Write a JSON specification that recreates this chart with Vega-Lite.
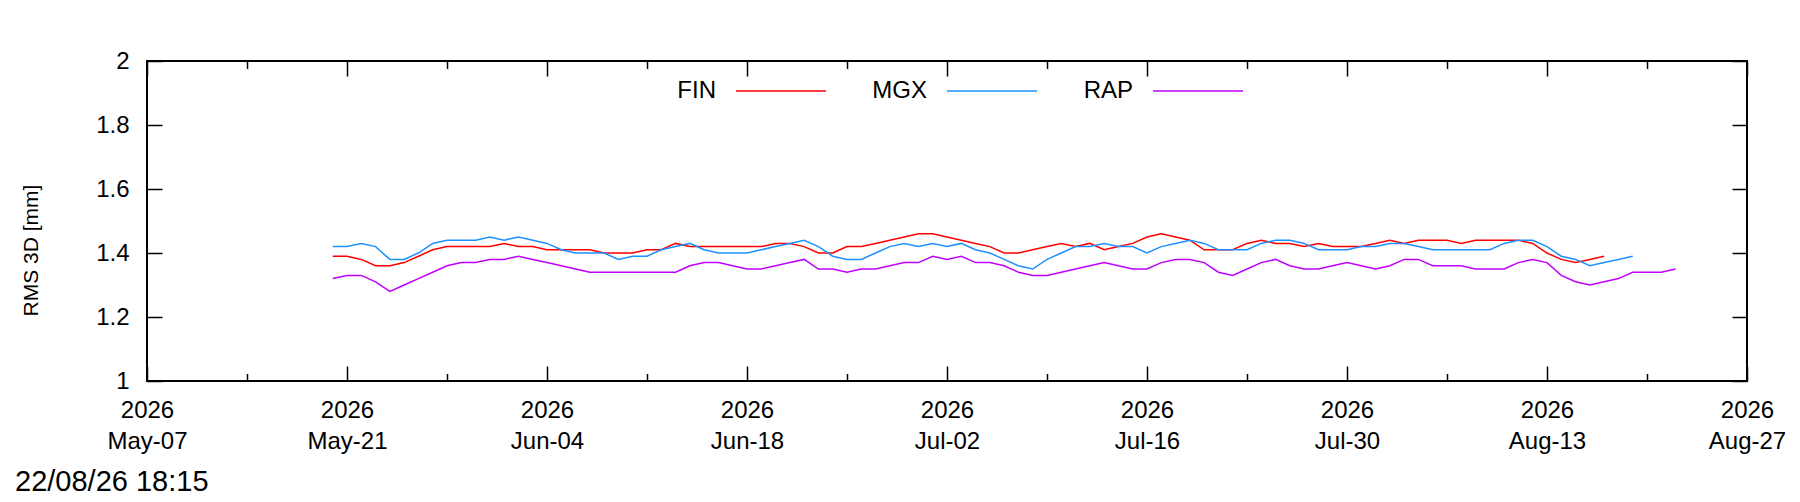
{
"$schema": "https://vega.github.io/schema/vega-lite/v6.json",
"width": 1600, "height": 320,
"autosize": {"type": "none"},
"padding": {"left": 147, "top": 61, "right": 53, "bottom": 121},
"background": "white",
"config": {
  "view": {"stroke": "black", "strokeWidth": 2},
  "font": "Liberation Sans",
  "axis": {"domain": false, "grid": false, "tickColor": "black", "tickWidth": 1.5, "labelColor": "black", "labelFont": "Liberation Sans", "labelFontSize": 24, "titleFont": "Liberation Sans", "titleFontSize": 21, "titleFontWeight": "normal", "titleColor": "black", "labelFlush": false, "labelOverlap": false, "labelBound": false}
},
"title": {"text": "22/08/26 18:15", "orient": "bottom", "anchor": "start", "frame": "group", "font": "Liberation Sans", "fontSize": 29, "fontWeight": "normal", "color": "black", "dx": -132, "offset": 15},
"data": {"values": [
{"date":"2026-05-20","series":"FIN","value":1.39},{"date":"2026-05-21","series":"FIN","value":1.39},{"date":"2026-05-22","series":"FIN","value":1.38},{"date":"2026-05-23","series":"FIN","value":1.36},{"date":"2026-05-24","series":"FIN","value":1.36},{"date":"2026-05-25","series":"FIN","value":1.37},{"date":"2026-05-26","series":"FIN","value":1.39},{"date":"2026-05-27","series":"FIN","value":1.41},{"date":"2026-05-28","series":"FIN","value":1.42},{"date":"2026-05-29","series":"FIN","value":1.42},{"date":"2026-05-30","series":"FIN","value":1.42},{"date":"2026-05-31","series":"FIN","value":1.42},
{"date":"2026-06-01","series":"FIN","value":1.43},{"date":"2026-06-02","series":"FIN","value":1.42},{"date":"2026-06-03","series":"FIN","value":1.42},{"date":"2026-06-04","series":"FIN","value":1.41},{"date":"2026-06-05","series":"FIN","value":1.41},{"date":"2026-06-06","series":"FIN","value":1.41},{"date":"2026-06-07","series":"FIN","value":1.41},{"date":"2026-06-08","series":"FIN","value":1.40},{"date":"2026-06-09","series":"FIN","value":1.40},{"date":"2026-06-10","series":"FIN","value":1.40},{"date":"2026-06-11","series":"FIN","value":1.41},{"date":"2026-06-12","series":"FIN","value":1.41},{"date":"2026-06-13","series":"FIN","value":1.43},{"date":"2026-06-14","series":"FIN","value":1.42},{"date":"2026-06-15","series":"FIN","value":1.42},{"date":"2026-06-16","series":"FIN","value":1.42},{"date":"2026-06-17","series":"FIN","value":1.42},{"date":"2026-06-18","series":"FIN","value":1.42},{"date":"2026-06-19","series":"FIN","value":1.42},{"date":"2026-06-20","series":"FIN","value":1.43},{"date":"2026-06-21","series":"FIN","value":1.43},{"date":"2026-06-22","series":"FIN","value":1.42},{"date":"2026-06-23","series":"FIN","value":1.40},{"date":"2026-06-24","series":"FIN","value":1.40},{"date":"2026-06-25","series":"FIN","value":1.42},{"date":"2026-06-26","series":"FIN","value":1.42},{"date":"2026-06-27","series":"FIN","value":1.43},{"date":"2026-06-28","series":"FIN","value":1.44},{"date":"2026-06-29","series":"FIN","value":1.45},{"date":"2026-06-30","series":"FIN","value":1.46},
{"date":"2026-07-01","series":"FIN","value":1.46},{"date":"2026-07-02","series":"FIN","value":1.45},{"date":"2026-07-03","series":"FIN","value":1.44},{"date":"2026-07-04","series":"FIN","value":1.43},{"date":"2026-07-05","series":"FIN","value":1.42},{"date":"2026-07-06","series":"FIN","value":1.40},{"date":"2026-07-07","series":"FIN","value":1.40},{"date":"2026-07-08","series":"FIN","value":1.41},{"date":"2026-07-09","series":"FIN","value":1.42},{"date":"2026-07-10","series":"FIN","value":1.43},{"date":"2026-07-11","series":"FIN","value":1.42},{"date":"2026-07-12","series":"FIN","value":1.43},{"date":"2026-07-13","series":"FIN","value":1.41},{"date":"2026-07-14","series":"FIN","value":1.42},{"date":"2026-07-15","series":"FIN","value":1.43},{"date":"2026-07-16","series":"FIN","value":1.45},{"date":"2026-07-17","series":"FIN","value":1.46},{"date":"2026-07-18","series":"FIN","value":1.45},{"date":"2026-07-19","series":"FIN","value":1.44},{"date":"2026-07-20","series":"FIN","value":1.41},{"date":"2026-07-21","series":"FIN","value":1.41},{"date":"2026-07-22","series":"FIN","value":1.41},{"date":"2026-07-23","series":"FIN","value":1.43},{"date":"2026-07-24","series":"FIN","value":1.44},{"date":"2026-07-25","series":"FIN","value":1.43},{"date":"2026-07-26","series":"FIN","value":1.43},{"date":"2026-07-27","series":"FIN","value":1.42},{"date":"2026-07-28","series":"FIN","value":1.43},{"date":"2026-07-29","series":"FIN","value":1.42},{"date":"2026-07-30","series":"FIN","value":1.42},{"date":"2026-07-31","series":"FIN","value":1.42},
{"date":"2026-08-01","series":"FIN","value":1.43},{"date":"2026-08-02","series":"FIN","value":1.44},{"date":"2026-08-03","series":"FIN","value":1.43},{"date":"2026-08-04","series":"FIN","value":1.44},{"date":"2026-08-05","series":"FIN","value":1.44},{"date":"2026-08-06","series":"FIN","value":1.44},{"date":"2026-08-07","series":"FIN","value":1.43},{"date":"2026-08-08","series":"FIN","value":1.44},{"date":"2026-08-09","series":"FIN","value":1.44},{"date":"2026-08-10","series":"FIN","value":1.44},{"date":"2026-08-11","series":"FIN","value":1.44},{"date":"2026-08-12","series":"FIN","value":1.43},{"date":"2026-08-13","series":"FIN","value":1.40},{"date":"2026-08-14","series":"FIN","value":1.38},{"date":"2026-08-15","series":"FIN","value":1.37},{"date":"2026-08-16","series":"FIN","value":1.38},{"date":"2026-08-17","series":"FIN","value":1.39},
{"date":"2026-05-20","series":"MGX","value":1.42},{"date":"2026-05-21","series":"MGX","value":1.42},{"date":"2026-05-22","series":"MGX","value":1.43},{"date":"2026-05-23","series":"MGX","value":1.42},{"date":"2026-05-24","series":"MGX","value":1.38},{"date":"2026-05-25","series":"MGX","value":1.38},{"date":"2026-05-26","series":"MGX","value":1.40},{"date":"2026-05-27","series":"MGX","value":1.43},{"date":"2026-05-28","series":"MGX","value":1.44},{"date":"2026-05-29","series":"MGX","value":1.44},{"date":"2026-05-30","series":"MGX","value":1.44},{"date":"2026-05-31","series":"MGX","value":1.45},
{"date":"2026-06-01","series":"MGX","value":1.44},{"date":"2026-06-02","series":"MGX","value":1.45},{"date":"2026-06-03","series":"MGX","value":1.44},{"date":"2026-06-04","series":"MGX","value":1.43},{"date":"2026-06-05","series":"MGX","value":1.41},{"date":"2026-06-06","series":"MGX","value":1.40},{"date":"2026-06-07","series":"MGX","value":1.40},{"date":"2026-06-08","series":"MGX","value":1.40},{"date":"2026-06-09","series":"MGX","value":1.38},{"date":"2026-06-10","series":"MGX","value":1.39},{"date":"2026-06-11","series":"MGX","value":1.39},{"date":"2026-06-12","series":"MGX","value":1.41},{"date":"2026-06-13","series":"MGX","value":1.42},{"date":"2026-06-14","series":"MGX","value":1.43},{"date":"2026-06-15","series":"MGX","value":1.41},{"date":"2026-06-16","series":"MGX","value":1.40},{"date":"2026-06-17","series":"MGX","value":1.40},{"date":"2026-06-18","series":"MGX","value":1.40},{"date":"2026-06-19","series":"MGX","value":1.41},{"date":"2026-06-20","series":"MGX","value":1.42},{"date":"2026-06-21","series":"MGX","value":1.43},{"date":"2026-06-22","series":"MGX","value":1.44},{"date":"2026-06-23","series":"MGX","value":1.42},{"date":"2026-06-24","series":"MGX","value":1.39},{"date":"2026-06-25","series":"MGX","value":1.38},{"date":"2026-06-26","series":"MGX","value":1.38},{"date":"2026-06-27","series":"MGX","value":1.40},{"date":"2026-06-28","series":"MGX","value":1.42},{"date":"2026-06-29","series":"MGX","value":1.43},{"date":"2026-06-30","series":"MGX","value":1.42},
{"date":"2026-07-01","series":"MGX","value":1.43},{"date":"2026-07-02","series":"MGX","value":1.42},{"date":"2026-07-03","series":"MGX","value":1.43},{"date":"2026-07-04","series":"MGX","value":1.41},{"date":"2026-07-05","series":"MGX","value":1.40},{"date":"2026-07-06","series":"MGX","value":1.38},{"date":"2026-07-07","series":"MGX","value":1.36},{"date":"2026-07-08","series":"MGX","value":1.35},{"date":"2026-07-09","series":"MGX","value":1.38},{"date":"2026-07-10","series":"MGX","value":1.40},{"date":"2026-07-11","series":"MGX","value":1.42},{"date":"2026-07-12","series":"MGX","value":1.42},{"date":"2026-07-13","series":"MGX","value":1.43},{"date":"2026-07-14","series":"MGX","value":1.42},{"date":"2026-07-15","series":"MGX","value":1.42},{"date":"2026-07-16","series":"MGX","value":1.40},{"date":"2026-07-17","series":"MGX","value":1.42},{"date":"2026-07-18","series":"MGX","value":1.43},{"date":"2026-07-19","series":"MGX","value":1.44},{"date":"2026-07-20","series":"MGX","value":1.43},{"date":"2026-07-21","series":"MGX","value":1.41},{"date":"2026-07-22","series":"MGX","value":1.41},{"date":"2026-07-23","series":"MGX","value":1.41},{"date":"2026-07-24","series":"MGX","value":1.43},{"date":"2026-07-25","series":"MGX","value":1.44},{"date":"2026-07-26","series":"MGX","value":1.44},{"date":"2026-07-27","series":"MGX","value":1.43},{"date":"2026-07-28","series":"MGX","value":1.41},{"date":"2026-07-29","series":"MGX","value":1.41},{"date":"2026-07-30","series":"MGX","value":1.41},{"date":"2026-07-31","series":"MGX","value":1.42},
{"date":"2026-08-01","series":"MGX","value":1.42},{"date":"2026-08-02","series":"MGX","value":1.43},{"date":"2026-08-03","series":"MGX","value":1.43},{"date":"2026-08-04","series":"MGX","value":1.42},{"date":"2026-08-05","series":"MGX","value":1.41},{"date":"2026-08-06","series":"MGX","value":1.41},{"date":"2026-08-07","series":"MGX","value":1.41},{"date":"2026-08-08","series":"MGX","value":1.41},{"date":"2026-08-09","series":"MGX","value":1.41},{"date":"2026-08-10","series":"MGX","value":1.43},{"date":"2026-08-11","series":"MGX","value":1.44},{"date":"2026-08-12","series":"MGX","value":1.44},{"date":"2026-08-13","series":"MGX","value":1.42},{"date":"2026-08-14","series":"MGX","value":1.39},{"date":"2026-08-15","series":"MGX","value":1.38},{"date":"2026-08-16","series":"MGX","value":1.36},{"date":"2026-08-17","series":"MGX","value":1.37},{"date":"2026-08-18","series":"MGX","value":1.38},{"date":"2026-08-19","series":"MGX","value":1.39},
{"date":"2026-05-20","series":"RAP","value":1.32},{"date":"2026-05-21","series":"RAP","value":1.33},{"date":"2026-05-22","series":"RAP","value":1.33},{"date":"2026-05-23","series":"RAP","value":1.31},{"date":"2026-05-24","series":"RAP","value":1.28},{"date":"2026-05-25","series":"RAP","value":1.30},{"date":"2026-05-26","series":"RAP","value":1.32},{"date":"2026-05-27","series":"RAP","value":1.34},{"date":"2026-05-28","series":"RAP","value":1.36},{"date":"2026-05-29","series":"RAP","value":1.37},{"date":"2026-05-30","series":"RAP","value":1.37},{"date":"2026-05-31","series":"RAP","value":1.38},
{"date":"2026-06-01","series":"RAP","value":1.38},{"date":"2026-06-02","series":"RAP","value":1.39},{"date":"2026-06-03","series":"RAP","value":1.38},{"date":"2026-06-04","series":"RAP","value":1.37},{"date":"2026-06-05","series":"RAP","value":1.36},{"date":"2026-06-06","series":"RAP","value":1.35},{"date":"2026-06-07","series":"RAP","value":1.34},{"date":"2026-06-08","series":"RAP","value":1.34},{"date":"2026-06-09","series":"RAP","value":1.34},{"date":"2026-06-10","series":"RAP","value":1.34},{"date":"2026-06-11","series":"RAP","value":1.34},{"date":"2026-06-12","series":"RAP","value":1.34},{"date":"2026-06-13","series":"RAP","value":1.34},{"date":"2026-06-14","series":"RAP","value":1.36},{"date":"2026-06-15","series":"RAP","value":1.37},{"date":"2026-06-16","series":"RAP","value":1.37},{"date":"2026-06-17","series":"RAP","value":1.36},{"date":"2026-06-18","series":"RAP","value":1.35},{"date":"2026-06-19","series":"RAP","value":1.35},{"date":"2026-06-20","series":"RAP","value":1.36},{"date":"2026-06-21","series":"RAP","value":1.37},{"date":"2026-06-22","series":"RAP","value":1.38},{"date":"2026-06-23","series":"RAP","value":1.35},{"date":"2026-06-24","series":"RAP","value":1.35},{"date":"2026-06-25","series":"RAP","value":1.34},{"date":"2026-06-26","series":"RAP","value":1.35},{"date":"2026-06-27","series":"RAP","value":1.35},{"date":"2026-06-28","series":"RAP","value":1.36},{"date":"2026-06-29","series":"RAP","value":1.37},{"date":"2026-06-30","series":"RAP","value":1.37},
{"date":"2026-07-01","series":"RAP","value":1.39},{"date":"2026-07-02","series":"RAP","value":1.38},{"date":"2026-07-03","series":"RAP","value":1.39},{"date":"2026-07-04","series":"RAP","value":1.37},{"date":"2026-07-05","series":"RAP","value":1.37},{"date":"2026-07-06","series":"RAP","value":1.36},{"date":"2026-07-07","series":"RAP","value":1.34},{"date":"2026-07-08","series":"RAP","value":1.33},{"date":"2026-07-09","series":"RAP","value":1.33},{"date":"2026-07-10","series":"RAP","value":1.34},{"date":"2026-07-11","series":"RAP","value":1.35},{"date":"2026-07-12","series":"RAP","value":1.36},{"date":"2026-07-13","series":"RAP","value":1.37},{"date":"2026-07-14","series":"RAP","value":1.36},{"date":"2026-07-15","series":"RAP","value":1.35},{"date":"2026-07-16","series":"RAP","value":1.35},{"date":"2026-07-17","series":"RAP","value":1.37},{"date":"2026-07-18","series":"RAP","value":1.38},{"date":"2026-07-19","series":"RAP","value":1.38},{"date":"2026-07-20","series":"RAP","value":1.37},{"date":"2026-07-21","series":"RAP","value":1.34},{"date":"2026-07-22","series":"RAP","value":1.33},{"date":"2026-07-23","series":"RAP","value":1.35},{"date":"2026-07-24","series":"RAP","value":1.37},{"date":"2026-07-25","series":"RAP","value":1.38},{"date":"2026-07-26","series":"RAP","value":1.36},{"date":"2026-07-27","series":"RAP","value":1.35},{"date":"2026-07-28","series":"RAP","value":1.35},{"date":"2026-07-29","series":"RAP","value":1.36},{"date":"2026-07-30","series":"RAP","value":1.37},{"date":"2026-07-31","series":"RAP","value":1.36},
{"date":"2026-08-01","series":"RAP","value":1.35},{"date":"2026-08-02","series":"RAP","value":1.36},{"date":"2026-08-03","series":"RAP","value":1.38},{"date":"2026-08-04","series":"RAP","value":1.38},{"date":"2026-08-05","series":"RAP","value":1.36},{"date":"2026-08-06","series":"RAP","value":1.36},{"date":"2026-08-07","series":"RAP","value":1.36},{"date":"2026-08-08","series":"RAP","value":1.35},{"date":"2026-08-09","series":"RAP","value":1.35},{"date":"2026-08-10","series":"RAP","value":1.35},{"date":"2026-08-11","series":"RAP","value":1.37},{"date":"2026-08-12","series":"RAP","value":1.38},{"date":"2026-08-13","series":"RAP","value":1.37},{"date":"2026-08-14","series":"RAP","value":1.33},{"date":"2026-08-15","series":"RAP","value":1.31},{"date":"2026-08-16","series":"RAP","value":1.30},{"date":"2026-08-17","series":"RAP","value":1.31},{"date":"2026-08-18","series":"RAP","value":1.32},{"date":"2026-08-19","series":"RAP","value":1.34},{"date":"2026-08-20","series":"RAP","value":1.34},{"date":"2026-08-21","series":"RAP","value":1.34},{"date":"2026-08-22","series":"RAP","value":1.35}
]},
"layer": [
  {
    "mark": {"type": "line", "strokeWidth": 1.5, "clip": true},
    "encoding": {
      "x": {"field": "date", "type": "temporal",
        "scale": {"type": "utc", "domain": [{"year":2026,"month":5,"date":7,"utc":true},{"year":2026,"month":8,"date":27,"utc":true}]},
        "axis": {"orient": "bottom", "title": null, "tickSize": -15, "labelPadding": 32, "labelLineHeight": 31,
          "values": [{"year":2026,"month":5,"date":7,"utc":true},{"year":2026,"month":5,"date":21,"utc":true},{"year":2026,"month":6,"date":4,"utc":true},{"year":2026,"month":6,"date":18,"utc":true},{"year":2026,"month":7,"date":2,"utc":true},{"year":2026,"month":7,"date":16,"utc":true},{"year":2026,"month":7,"date":30,"utc":true},{"year":2026,"month":8,"date":13,"utc":true},{"year":2026,"month":8,"date":27,"utc":true}],
          "labelExpr": "[utcFormat(datum.value, '%Y'), utcFormat(datum.value, '%b-%d')]"}},
      "y": {"field": "value", "type": "quantitative",
        "scale": {"domain": [1, 2], "nice": false, "zero": false},
        "axis": {"orient": "left", "values": [1, 1.2, 1.4, 1.6, 1.8, 2], "format": "~g", "tickSize": -15, "labelPadding": 33,
          "title": "RMS 3D [mm]", "titleX": -116, "titleY": 189, "titleAngle": -90, "titleAlign": "center", "titleBaseline": "middle"}},
      "color": {"field": "series", "type": "nominal",
        "scale": {"domain": ["FIN", "MGX", "RAP"], "range": ["#ff0000", "#1e90ff", "#c000ff"]},
        "legend": {"orient": "none", "legendX": 588, "legendY": -16, "direction": "horizontal", "title": null,
          "symbolType": "stroke", "symbolSize": 8100, "symbolStrokeWidth": 1.5,
          "labelFont": "Liberation Sans", "labelFontSize": 24, "labelColor": "black",
          "labelAlign": "right", "labelOffset": -111, "columnPadding": 43}}
    }
  },
  {
    "mark": {"type": "line", "strokeOpacity": 0},
    "encoding": {
      "x": {"field": "date", "type": "temporal",
        "axis": {"orient": "bottom", "title": null, "tickSize": -7.5, "labels": false,
          "values": [{"year":2026,"month":5,"date":14,"utc":true},{"year":2026,"month":5,"date":28,"utc":true},{"year":2026,"month":6,"date":11,"utc":true},{"year":2026,"month":6,"date":25,"utc":true},{"year":2026,"month":7,"date":9,"utc":true},{"year":2026,"month":7,"date":23,"utc":true},{"year":2026,"month":8,"date":6,"utc":true},{"year":2026,"month":8,"date":20,"utc":true}]}},
      "y": {"field": "value", "type": "quantitative",
        "axis": {"orient": "right", "values": [1, 1.2, 1.4, 1.6, 1.8, 2], "tickSize": -15, "labels": false, "title": null}},
      "detail": {"field": "series"}
    }
  },
  {
    "mark": {"type": "line", "strokeOpacity": 0},
    "encoding": {
      "x": {"field": "date", "type": "temporal",
        "axis": {"orient": "top", "title": null, "tickSize": -15, "labels": false,
          "values": [{"year":2026,"month":5,"date":7,"utc":true},{"year":2026,"month":5,"date":21,"utc":true},{"year":2026,"month":6,"date":4,"utc":true},{"year":2026,"month":6,"date":18,"utc":true},{"year":2026,"month":7,"date":2,"utc":true},{"year":2026,"month":7,"date":16,"utc":true},{"year":2026,"month":7,"date":30,"utc":true},{"year":2026,"month":8,"date":13,"utc":true},{"year":2026,"month":8,"date":27,"utc":true}]}},
      "y": {"field": "value", "type": "quantitative", "axis": null},
      "detail": {"field": "series"}
    }
  },
  {
    "mark": {"type": "line", "strokeOpacity": 0},
    "encoding": {
      "x": {"field": "date", "type": "temporal",
        "axis": {"orient": "top", "title": null, "tickSize": -7.5, "labels": false,
          "values": [{"year":2026,"month":5,"date":14,"utc":true},{"year":2026,"month":5,"date":28,"utc":true},{"year":2026,"month":6,"date":11,"utc":true},{"year":2026,"month":6,"date":25,"utc":true},{"year":2026,"month":7,"date":9,"utc":true},{"year":2026,"month":7,"date":23,"utc":true},{"year":2026,"month":8,"date":6,"utc":true},{"year":2026,"month":8,"date":20,"utc":true}]}},
      "y": {"field": "value", "type": "quantitative", "axis": null},
      "detail": {"field": "series"}
    }
  }
],
"resolve": {"axis": {"x": "independent", "y": "independent"}}
}
